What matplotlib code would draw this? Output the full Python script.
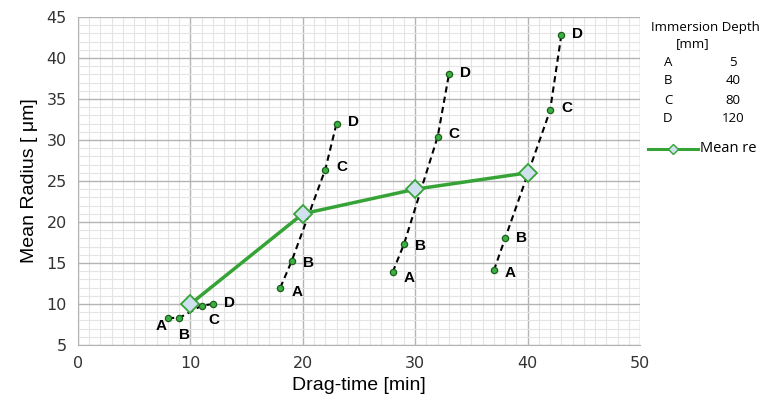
import numpy as np
import matplotlib
matplotlib.use('Agg')
import matplotlib.pyplot as plt
from matplotlib.ticker import MultipleLocator
from matplotlib.lines import Line2D

# drag-time groups, points A-D for each
groups_x = [[8, 9, 11, 12],
            [18, 19, 22, 23],
            [28, 29, 32, 33],
            [37, 38, 42, 43]]
groups_y = [[8.3, 8.3, 9.8, 10.0],
            [12.0, 15.2, 26.4, 32.0],
            [13.9, 17.3, 30.4, 38.0],
            [14.1, 18.0, 33.6, 42.8]]
point_names = ['A', 'B', 'C', 'D']

mean_x = [10, 20, 30, 40]
mean_y = [10, 21, 24, 26]

depth_names = ['A', 'B', 'C', 'D']
depth_mm = [5, 40, 80, 120]

green = '#36a336'

fig = plt.figure(figsize=(7.61, 4.04), dpi=100)
ax = fig.add_axes([0.1025, 0.146, 0.7385, 0.812])

ax.set_xlim(0, 50)
ax.set_ylim(5, 45)
ax.xaxis.set_major_locator(MultipleLocator(10))
ax.yaxis.set_major_locator(MultipleLocator(5))
ax.xaxis.set_minor_locator(MultipleLocator(1))
ax.yaxis.set_minor_locator(MultipleLocator(1))
ax.grid(which='minor', color='#e4e4e4', lw=0.8)
ax.grid(which='major', color='#b4b4b4', lw=1.0)
ax.set_axisbelow(True)
ax.tick_params(which='both', length=0, labelsize=11.5, colors='#333333', pad=8)
for s in ax.spines.values():
    s.set_visible(False)
ax.spines['left'].set_visible(True)
ax.spines['bottom'].set_visible(True)
ax.spines['left'].set_color('#b4b4b4')
ax.spines['bottom'].set_color('#b4b4b4')

ax.set_xlabel('Drag-time [min]', fontsize=14, family='Liberation Sans', labelpad=4)
ax.set_ylabel('Mean Radius [ \u03bcm]', fontsize=14, family='Liberation Sans', labelpad=6)

# label offsets (points) for each group
offs = [[(-9, -6), (0, -12), (5, -10), (8, 1)],
        [(8, -3), (8, -1), (8, 2), (8, 1)],
        [(8, -4), (8, -1), (8, 2), (8, 1)],
        [(8, -2), (8, 0), (8, 2), (8, 1)]]

for gx, gy, go in zip(groups_x, groups_y, offs):
    ax.plot(gx, gy, color='black', ls=(0, (3, 2)), lw=1.5, zorder=3)
    ax.plot(gx, gy, ls='none', marker='o', ms=4.5, mfc='#3cb043',
            mec='#1d5e1d', mew=0.9, zorder=5)
    for x, y, n, o in zip(gx, gy, point_names, go):
        ax.annotate(n, (x, y), xytext=o, textcoords='offset points',
                    ha='left', va='center', fontsize=11, fontweight='bold',
                    family='Liberation Sans', zorder=6)

ax.plot(mean_x, mean_y, color=green, lw=2.5, marker='D', ms=9,
        mfc='#cfe0ee', mec=green, mew=1.3, zorder=4)

# legend table at the right
lf = 'Open Sans'
fs = 9.5
fig.text(651 / 761, 1 - 27 / 404, 'Immersion Depth', fontsize=fs, family=lf,
         ha='left', va='center')
fig.text(693 / 761, 1 - 44 / 404, '[mm]', fontsize=fs, family=lf,
         ha='center', va='center')
for i, (n, d) in enumerate(zip(depth_names, depth_mm)):
    yy = 1 - (62 + i * 19) / 404
    fig.text(668 / 761, yy, n, fontsize=fs, family=lf, ha='center', va='center')
    fig.text(733 / 761, yy, str(d), fontsize=fs, family=lf, ha='center', va='center')

fig.add_artist(Line2D([648 / 761, 698 / 761], [1 - 149 / 404, 1 - 149 / 404],
                      transform=fig.transFigure, color=green, lw=2.2))
fig.add_artist(Line2D([673 / 761], [1 - 149 / 404], transform=fig.transFigure,
                      marker='D', ms=5, mfc='#cfe0ee', mec=green, mew=1))
fig.text(700 / 761, 1 - 149 / 404, 'Mean re', fontsize=10.5, family=lf,
         ha='left', va='center')

plt.savefig('out.png', dpi=100)
